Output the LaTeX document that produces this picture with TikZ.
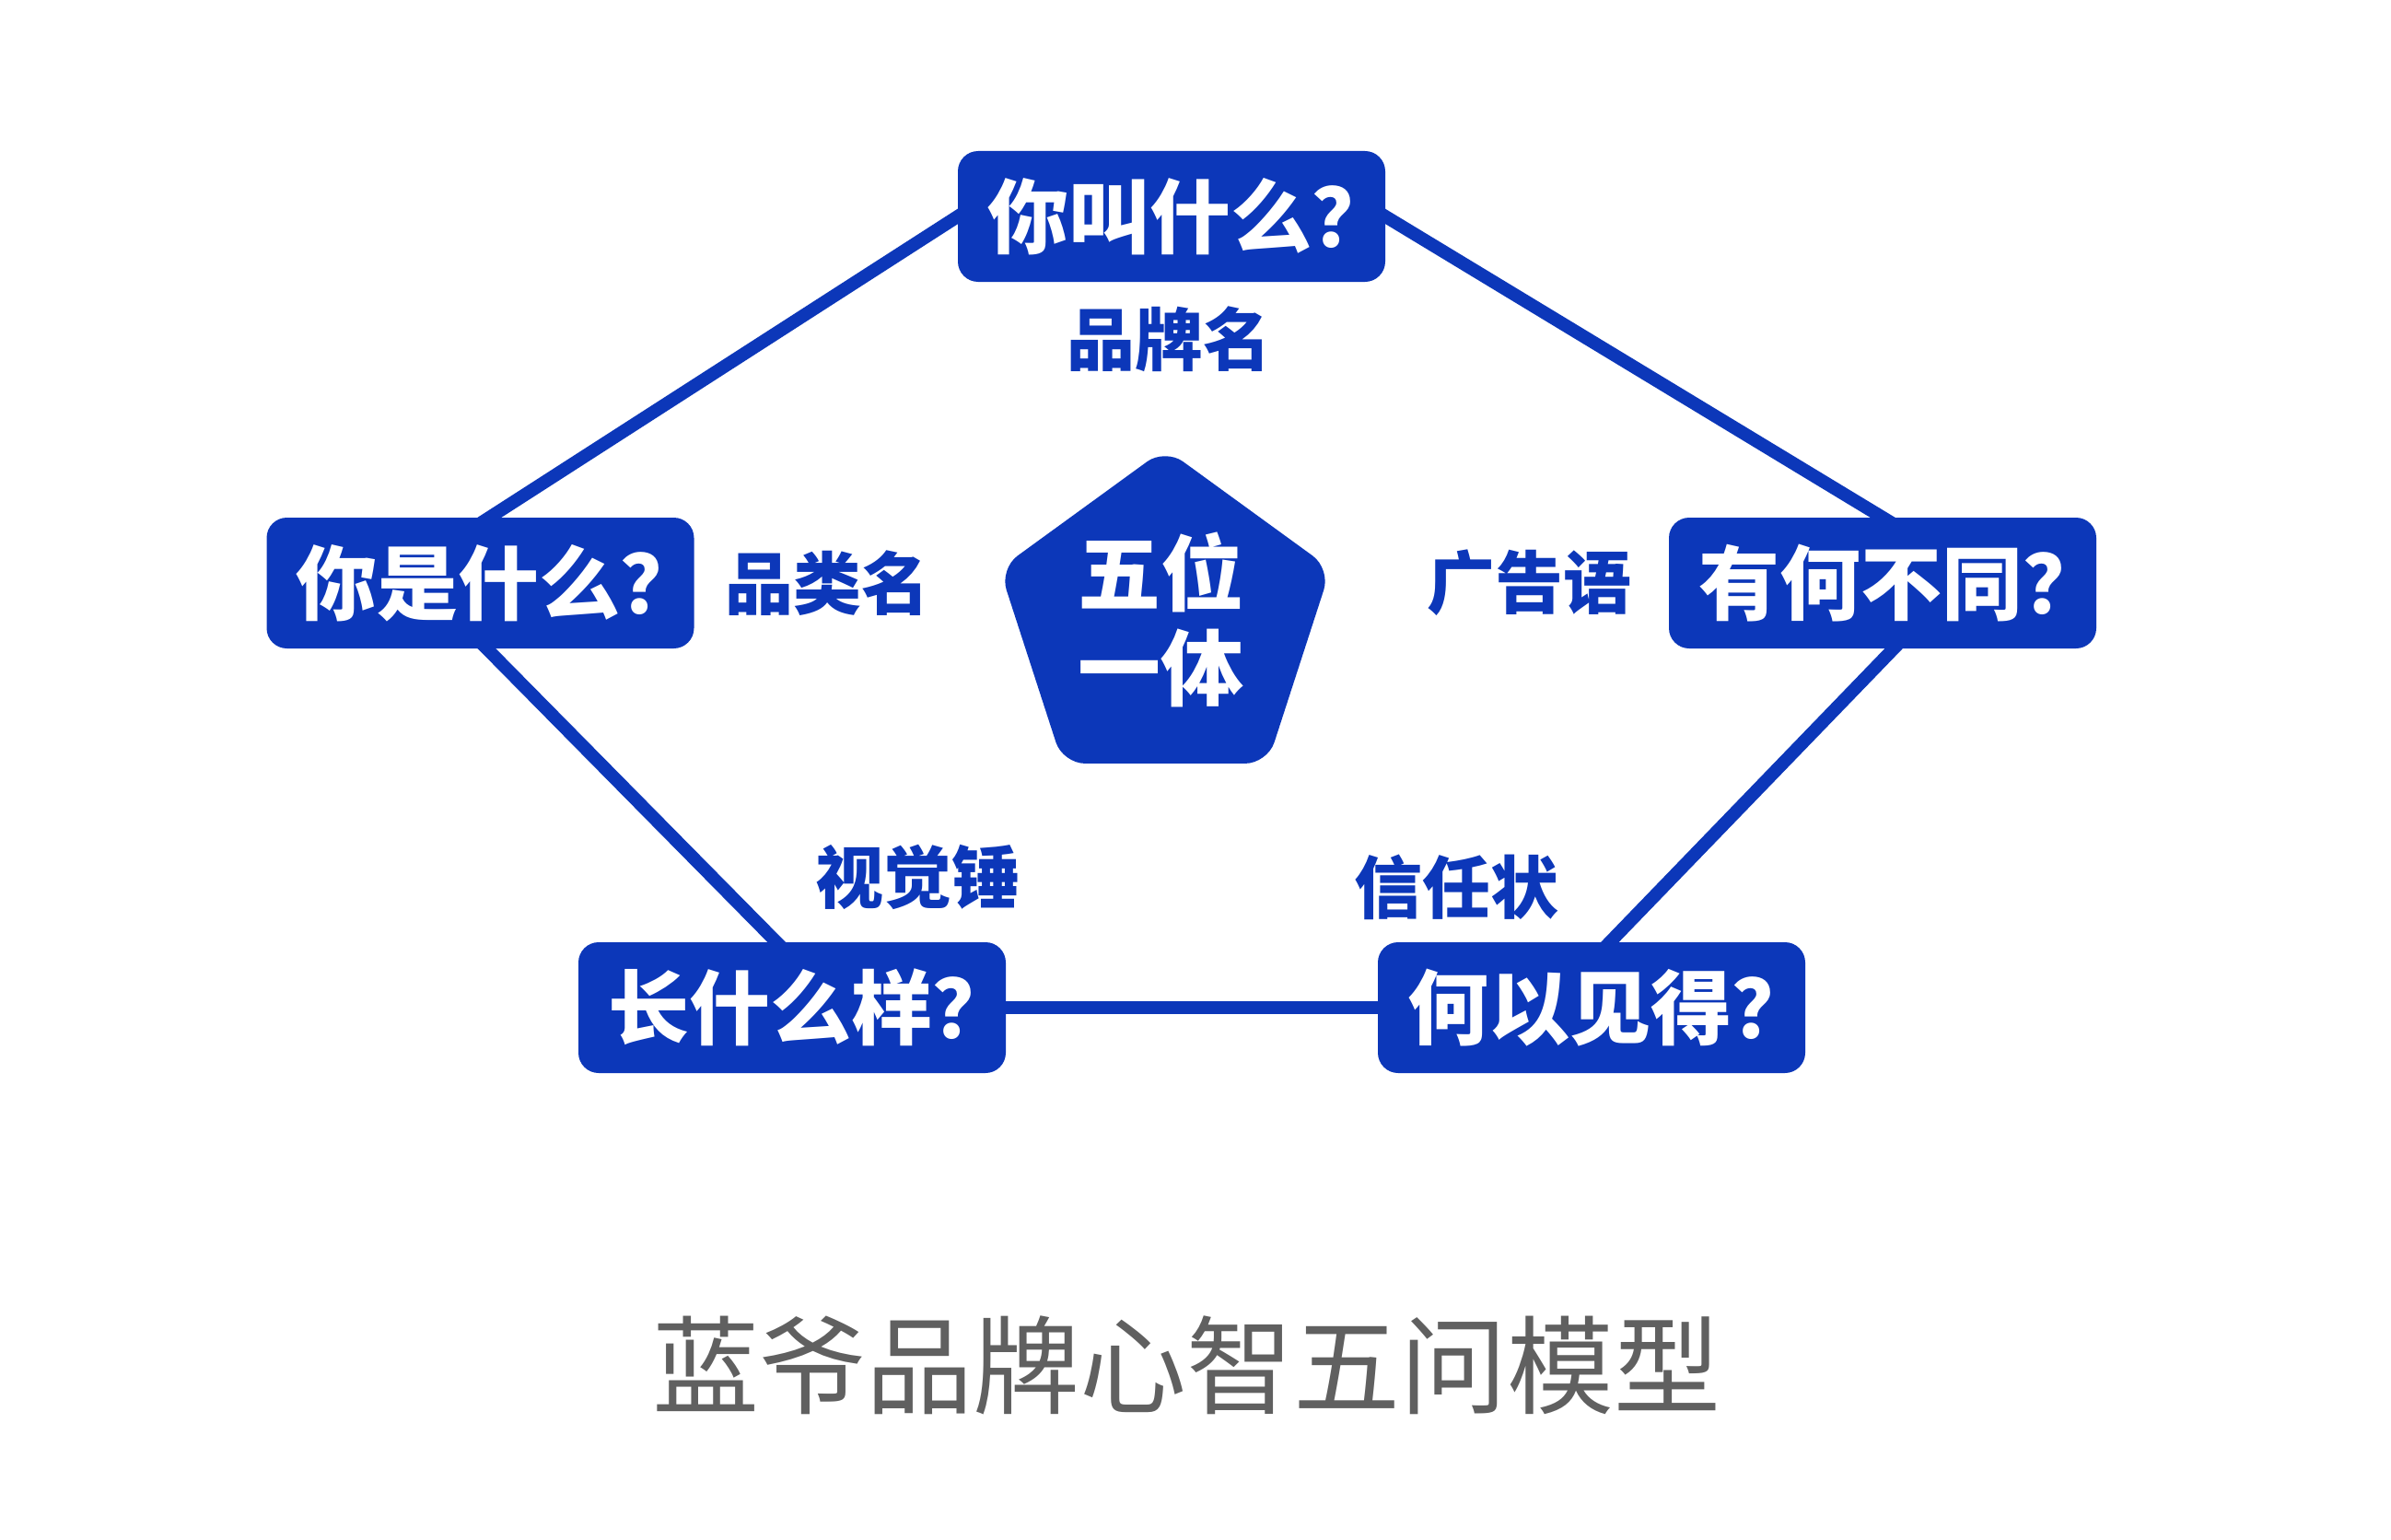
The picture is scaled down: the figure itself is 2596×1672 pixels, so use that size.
\documentclass[tikz,border=0pt]{standalone}
\usepackage{fontspec}
\setmainfont{Noto Sans CJK SC}
\usetikzlibrary{backgrounds}
\definecolor{lblue}{RGB}{12,55,185}
\definecolor{tgray}{RGB}{96,96,96}
\newcommand{\qtxt}[1]{\kern20pt #1\kern-20pt}
\begin{document}
\begin{tikzpicture}[x=1pt,y=-1pt,
  qbox/.style={fill=lblue, rounded corners=22pt, minimum width=464pt, minimum height=142pt, inner sep=0pt, text=white, font=\fontsize{88}{100}\selectfont\bfseries},
  lbl/.style={text=lblue, inner sep=0pt, font=\fontsize{74}{88}\selectfont\bfseries},
  ptext/.style={text=white, inner sep=0pt, font=\fontsize{90}{104}\selectfont\bfseries},
  link/.style={draw=lblue, line width=14pt, shorten <=-12pt, shorten >=-12pt}]
\path[use as bounding box] (0,0) rectangle (2596,1672);

% question boxes
\node[qbox] (top)   at (1272,235)  {\qtxt{你叫什么？}};
\node[qbox] (left)  at (521.5,633) {\qtxt{你是什么？}};
\node[qbox] (right) at (2044,633)  {\qtxt{有何不同？}};
\node[qbox] (bl)    at (860,1094)  {\qtxt{长什么样？}};
\node[qbox] (br)    at (1728,1094) {\qtxt{何以见得？}};

% labels
\node[lbl] (l1) at (1269,368) {品牌名};
\node[lbl] (l2) at (898,633)  {品类名};
\node[lbl] (l3) at (1660,633) {广告语};
\node[lbl] (l4) at (996,952)  {视觉锤};
\node[lbl] (l5) at (1581,963) {信任状};

% central pentagon
\coordinate (p1) at (1265,487);
\coordinate (p2) at (1444.7,617.6);
\coordinate (p3) at (1376.1,828.9);
\coordinate (p4) at (1153.9,828.9);
\coordinate (p5) at (1085.3,617.6);
\fill[lblue, rounded corners=24pt] (p1) -- (p2) -- (p3) -- (p4) -- (p5) -- cycle;
\node[ptext] (c1) at (1260,621) {五位};
\node[ptext] (c2) at (1260,725) {一体};

% title
\node[text=tgray, inner sep=0pt, font=\fontsize{116}{130}\selectfont] (title) at (1288,1482) {蓝爷品牌心智五问模型};

\begin{scope}[on background layer]
  \fill[white] (0,0) rectangle (2596,1672);
  \draw[link] (top.west) -- ([xshift=10pt]left.north);
  \draw[link] (top.east) -- (right.north);
  \draw[link] ([xshift=7pt]left.south) -- ([xshift=-17pt]bl.north);
  \draw[link] ([xshift=12pt]right.south) -- ([xshift=20pt]br.north);
  \draw[link] (bl.east) -- (br.west);
\end{scope}
\end{tikzpicture}
\end{document}
